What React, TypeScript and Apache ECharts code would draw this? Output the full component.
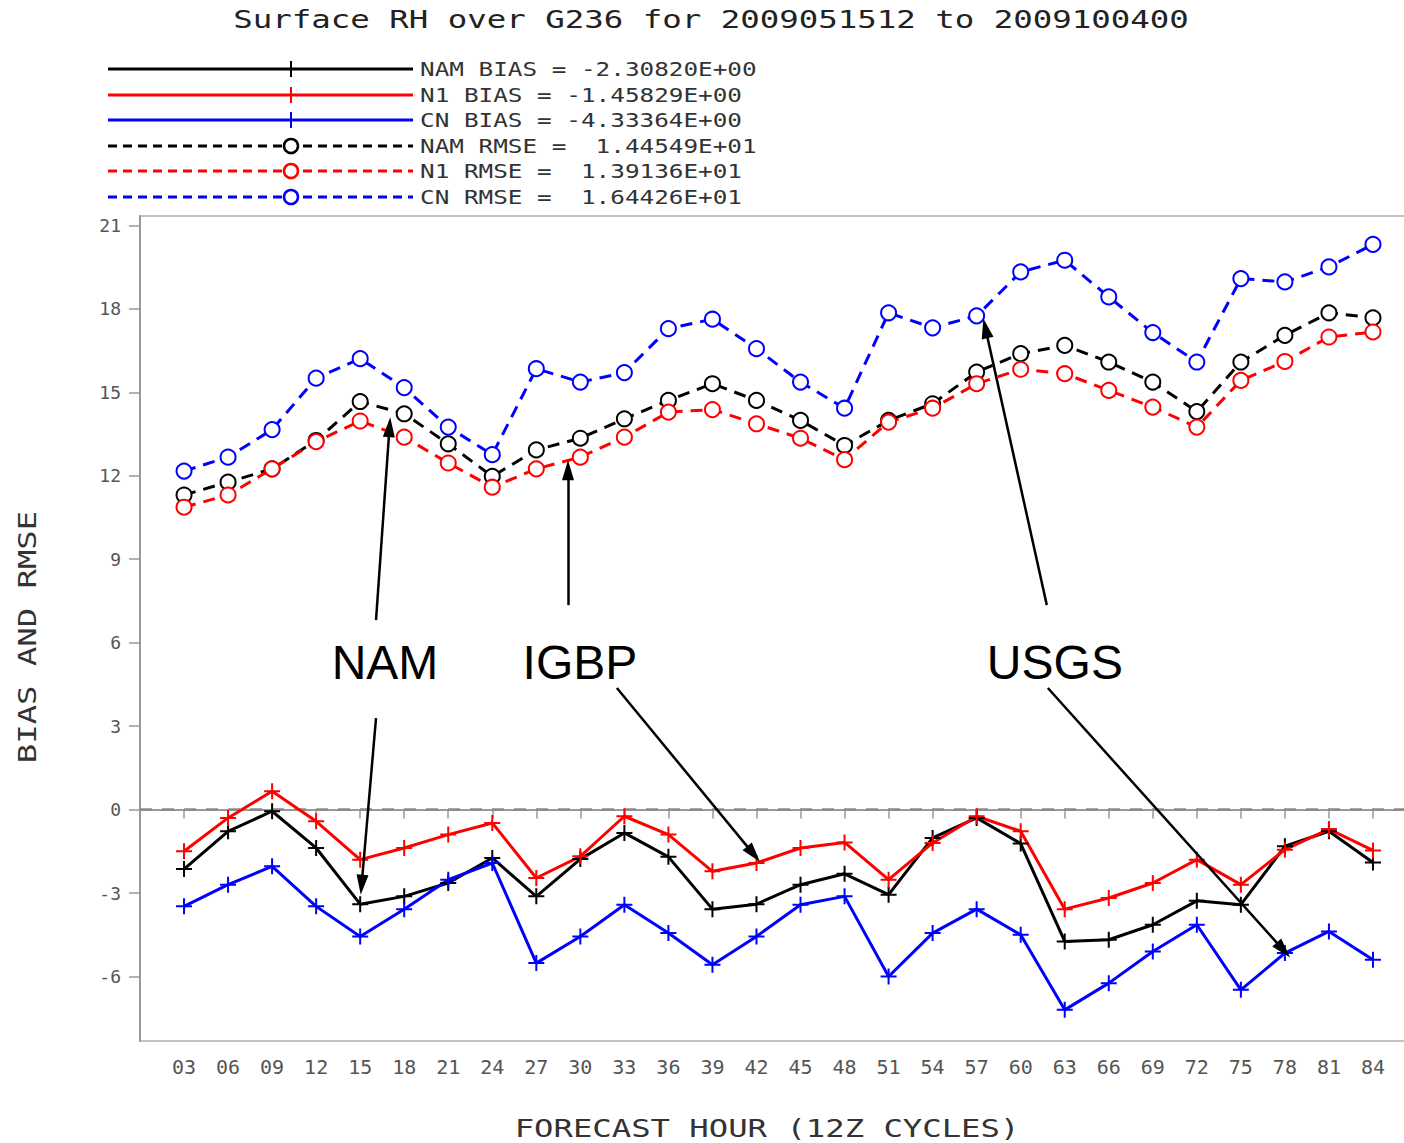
import React, { useEffect, useRef } from "react";
import * as echarts from "echarts";

const hours = [3, 6, 9, 12, 15, 18, 21, 24, 27, 30, 33, 36, 39, 42, 45, 48, 51, 54, 57, 60, 63, 66, 69, 72, 75, 78, 81, 84];

const namBias = [-2.14, -0.78, -0.06, -1.38, -3.4, -3.12, -2.64, -1.74, -3.12, -1.78, -0.84, -1.7, -3.58, -3.4, -2.7, -2.31, -3.06, -1.02, -0.3, -1.22, -4.74, -4.68, -4.14, -3.28, -3.42, -1.32, -0.78, -1.9];
const n1Bias = [-1.5, -0.3, 0.66, -0.42, -1.8, -1.38, -0.9, -0.48, -2.46, -1.68, -0.24, -0.9, -2.22, -1.92, -1.38, -1.18, -2.52, -1.2, -0.24, -0.78, -3.58, -3.18, -2.64, -1.8, -2.7, -1.44, -0.7, -1.47];
const cnBias = [-3.48, -2.7, -2.04, -3.48, -4.56, -3.58, -2.52, -1.92, -5.52, -4.56, -3.42, -4.44, -5.58, -4.56, -3.42, -3.12, -6.0, -4.44, -3.58, -4.5, -7.2, -6.24, -5.1, -4.14, -6.48, -5.16, -4.38, -5.4];
const namRmse = [11.31, 11.77, 12.25, 13.27, 14.67, 14.23, 13.15, 11.98, 12.93, 13.35, 14.05, 14.71, 15.31, 14.71, 13.99, 13.09, 13.99, 14.59, 15.73, 16.39, 16.69, 16.09, 15.37, 14.31, 16.09, 17.05, 17.86, 17.68];
const n1Rmse = [10.87, 11.31, 12.25, 13.23, 13.97, 13.39, 12.46, 11.59, 12.25, 12.67, 13.39, 14.29, 14.38, 13.87, 13.35, 12.58, 13.93, 14.43, 15.31, 15.83, 15.67, 15.07, 14.47, 13.75, 15.43, 16.11, 16.99, 17.17];
const cnRmse = [12.17, 12.67, 13.66, 15.51, 16.21, 15.17, 13.75, 12.76, 15.85, 15.37, 15.71, 17.29, 17.63, 16.57, 15.37, 14.43, 17.86, 17.32, 17.75, 19.33, 19.75, 18.43, 17.15, 16.09, 19.09, 18.97, 19.51, 20.32];

const yTicks = [-6, -3, 0, 3, 6, 9, 12, 15, 18, 21];

const legendLabels = [
  "NAM BIAS = -2.30820E+00",
  "N1 BIAS = -1.45829E+00",
  "CN BIAS = -4.33364E+00",
  "NAM RMSE =  1.44549E+01",
  "N1 RMSE =  1.39136E+01",
  "CN RMSE =  1.64426E+01",
];

const titleText = "Surface RH over G236 for 2009051512 to 2009100400";
const xAxisTitle = "FORECAST HOUR (12Z CYCLES)";
const yAxisTitle = "BIAS AND RMSE";

const annotationLabels = ["NAM", "IGBP", "USGS"];
const annotationCoords = [
  [16.69, 5.3],
  [29.97, 5.3],
  [62.33, 5.3],
];
const arrowCoords = [
  [[16.08, 6.81], [17.0, 13.75]],
  [[16.08, 3.29], [15.1, -2.7]],
  [[29.16, 7.35], [29.16, 12.2]],
  [[32.49, 4.37], [41.8, -1.6]],
  [[61.78, 7.35], [57.6, 17.3]],
  [[61.85, 4.37], [77.9, -5.05]],
];

const BLACK = "#000000";
const RED = "#ff0000";
const BLUE = "#0000ff";
const PLUS = "path://M7,0H9V7H16V9H9V16H7V9H0V7H7Z";

function pad2(v: number) {
  return v < 10 ? "0" + v : String(v);
}

export default function App() {
  const ref = useRef<HTMLDivElement>(null);

  useEffect(() => {
    if (!ref.current) return;
    const chart = echarts.init(ref.current, undefined, { renderer: "svg" });

    const mono = "DejaVu Sans Mono";
    const colors = [BLACK, RED, BLUE, BLACK, RED, BLUE];
    const rowY = [69, 95, 120, 146, 171, 197];

    const legendGraphics: any[] = [];
    legendLabels.forEach((lbl, i) => {
      const y = rowY[i];
      const dashed = i >= 3;
      legendGraphics.push({
        type: "line",
        shape: { x1: 108, y1: y, x2: 413, y2: y },
        style: { stroke: colors[i], lineWidth: 3, lineDash: dashed ? [9, 6] : null },
        silent: true,
      });
      if (dashed) {
        legendGraphics.push({
          type: "circle",
          shape: { cx: 291, cy: y, r: 7 },
          style: { stroke: colors[i], lineWidth: 2.5, fill: "#fff" },
          silent: true,
        });
      } else {
        legendGraphics.push({
          type: "line",
          shape: { x1: 291, y1: y - 8, x2: 291, y2: y + 8 },
          style: { stroke: colors[i], lineWidth: 2 },
          silent: true,
        });
      }
      legendGraphics.push({
        type: "text",
        x: 420,
        y: y,
        scaleX: 1.28,
        style: {
          text: lbl,
          x: 0,
          y: 0,
          fontFamily: mono,
          fontSize: 19,
          fill: "#333",
          align: "left",
          verticalAlign: "middle",
        },
        silent: true,
      });
    });

    const lineSeries = (name: string, arr: number[], color: string, rmse: boolean, extra: any = {}) => ({
      name,
      type: "line",
      data: hours.map((h, i) => [h, arr[i]]),
      symbol: rmse ? "emptyCircle" : PLUS,
      symbolSize: rmse ? 15 : 16,
      showSymbol: true,
      lineStyle: { color, width: 3, type: rmse ? [12, 8] : "solid" },
      itemStyle: rmse ? { color, borderColor: color, borderWidth: 2.5 } : { color },
      emphasis: { disabled: true },
      z: 3,
      ...extra,
    });

    const option: any = {
      animation: false,
      backgroundColor: "#fff",
      grid: {
        left: 140,
        top: 216,
        bottom: 102,
        right: 13,
        show: true,
        borderColor: "#b0b0b0",
        borderWidth: 1.5,
      },
      xAxis: {
        type: "value",
        min: 0,
        max: 87,
        axisLine: { show: true, lineStyle: { color: "#999", width: 2 } },
        axisTick: { show: true, customValues: hours, length: 9, lineStyle: { color: "#999", width: 1.5 } },
        axisLabel: {
          customValues: hours,
          formatter: (v: number) => pad2(v),
          fontFamily: mono,
          fontSize: 20,
          color: "#555",
          margin: 16,
        },
        splitLine: { show: false },
      },
      yAxis: {
        type: "value",
        min: -8.32,
        max: 21.34,
        axisLine: { show: true, lineStyle: { color: "#999", width: 2 } },
        axisTick: { show: true, customValues: yTicks, length: 11, lineStyle: { color: "#999", width: 1.5 } },
        axisLabel: {
          customValues: yTicks,
          formatter: (v: number) => String(v),
          fontFamily: mono,
          fontSize: 18,
          color: "#555",
          margin: 19,
        },
        splitLine: { show: false },
      },
      graphic: [
        {
          type: "text",
          x: 711,
          y: 20,
          scaleX: 1.35,
          style: {
            text: titleText,
            x: 0,
            y: 0,
            fontFamily: mono,
            fontSize: 24,
            fill: "#222",
            align: "center",
            verticalAlign: "middle",
          },
          silent: true,
        },
        {
          type: "text",
          x: 767,
          y: 1128,
          scaleX: 1.29,
          style: {
            text: xAxisTitle,
            x: 0,
            y: 0,
            fontFamily: mono,
            fontSize: 25,
            fill: "#333",
            align: "center",
            verticalAlign: "middle",
          },
          silent: true,
        },
        {
          type: "text",
          x: 27,
          y: 637,
          rotation: Math.PI / 2,
          scaleX: 1.29,
          style: {
            text: yAxisTitle,
            x: 0,
            y: 0,
            fontFamily: mono,
            fontSize: 25,
            fill: "#333",
            align: "center",
            verticalAlign: "middle",
          },
          silent: true,
        },
        ...legendGraphics,
      ],
      series: [
        lineSeries("NAM BIAS", namBias, BLACK, false, {
          markLine: {
            silent: true,
            symbol: ["none", "triangle"],
            symbolSize: [12, 20],
            label: { show: false },
            lineStyle: { color: "#000", width: 2.5, type: "solid" },
            emphasis: { disabled: true },
            data: arrowCoords.map((a) => [{ coord: a[0] }, { coord: a[1] }]),
            z: 10,
          },
          markPoint: {
            silent: true,
            symbol: "circle",
            symbolSize: 1,
            itemStyle: { color: "rgba(0,0,0,0)" },
            label: {
              show: true,
              position: "inside",
              formatter: (p: any) => p.name,
              fontFamily: "Liberation Sans",
              fontSize: 48,
              color: "#000",
            },
            data: annotationLabels.map((n, i) => ({ name: n, coord: annotationCoords[i] })),
          },
        }),
        lineSeries("N1 BIAS", n1Bias, RED, false),
        lineSeries("CN BIAS", cnBias, BLUE, false),
        lineSeries("NAM RMSE", namRmse, BLACK, true, {
          markLine: {
            silent: true,
            symbol: ["none", "none"],
            label: { show: false },
            lineStyle: { color: "#8a8a8a", width: 2.5, type: [12, 10] },
            emphasis: { disabled: true },
            data: [{ yAxis: 0 }],
            z: 1,
          },
        }),
        lineSeries("N1 RMSE", n1Rmse, RED, true),
        lineSeries("CN RMSE", cnRmse, BLUE, true),
      ],
    };

    chart.setOption(option);
    return () => {
      chart.dispose();
    };
  }, []);

  return (
    <div
      style={{ position: "absolute", left: 0, top: 0, width: 1404, height: 1143, overflow: "hidden", background: "#fff" }}
    >
      <div ref={ref} style={{ width: 1430, height: 1143 }} />
    </div>
  );
}
